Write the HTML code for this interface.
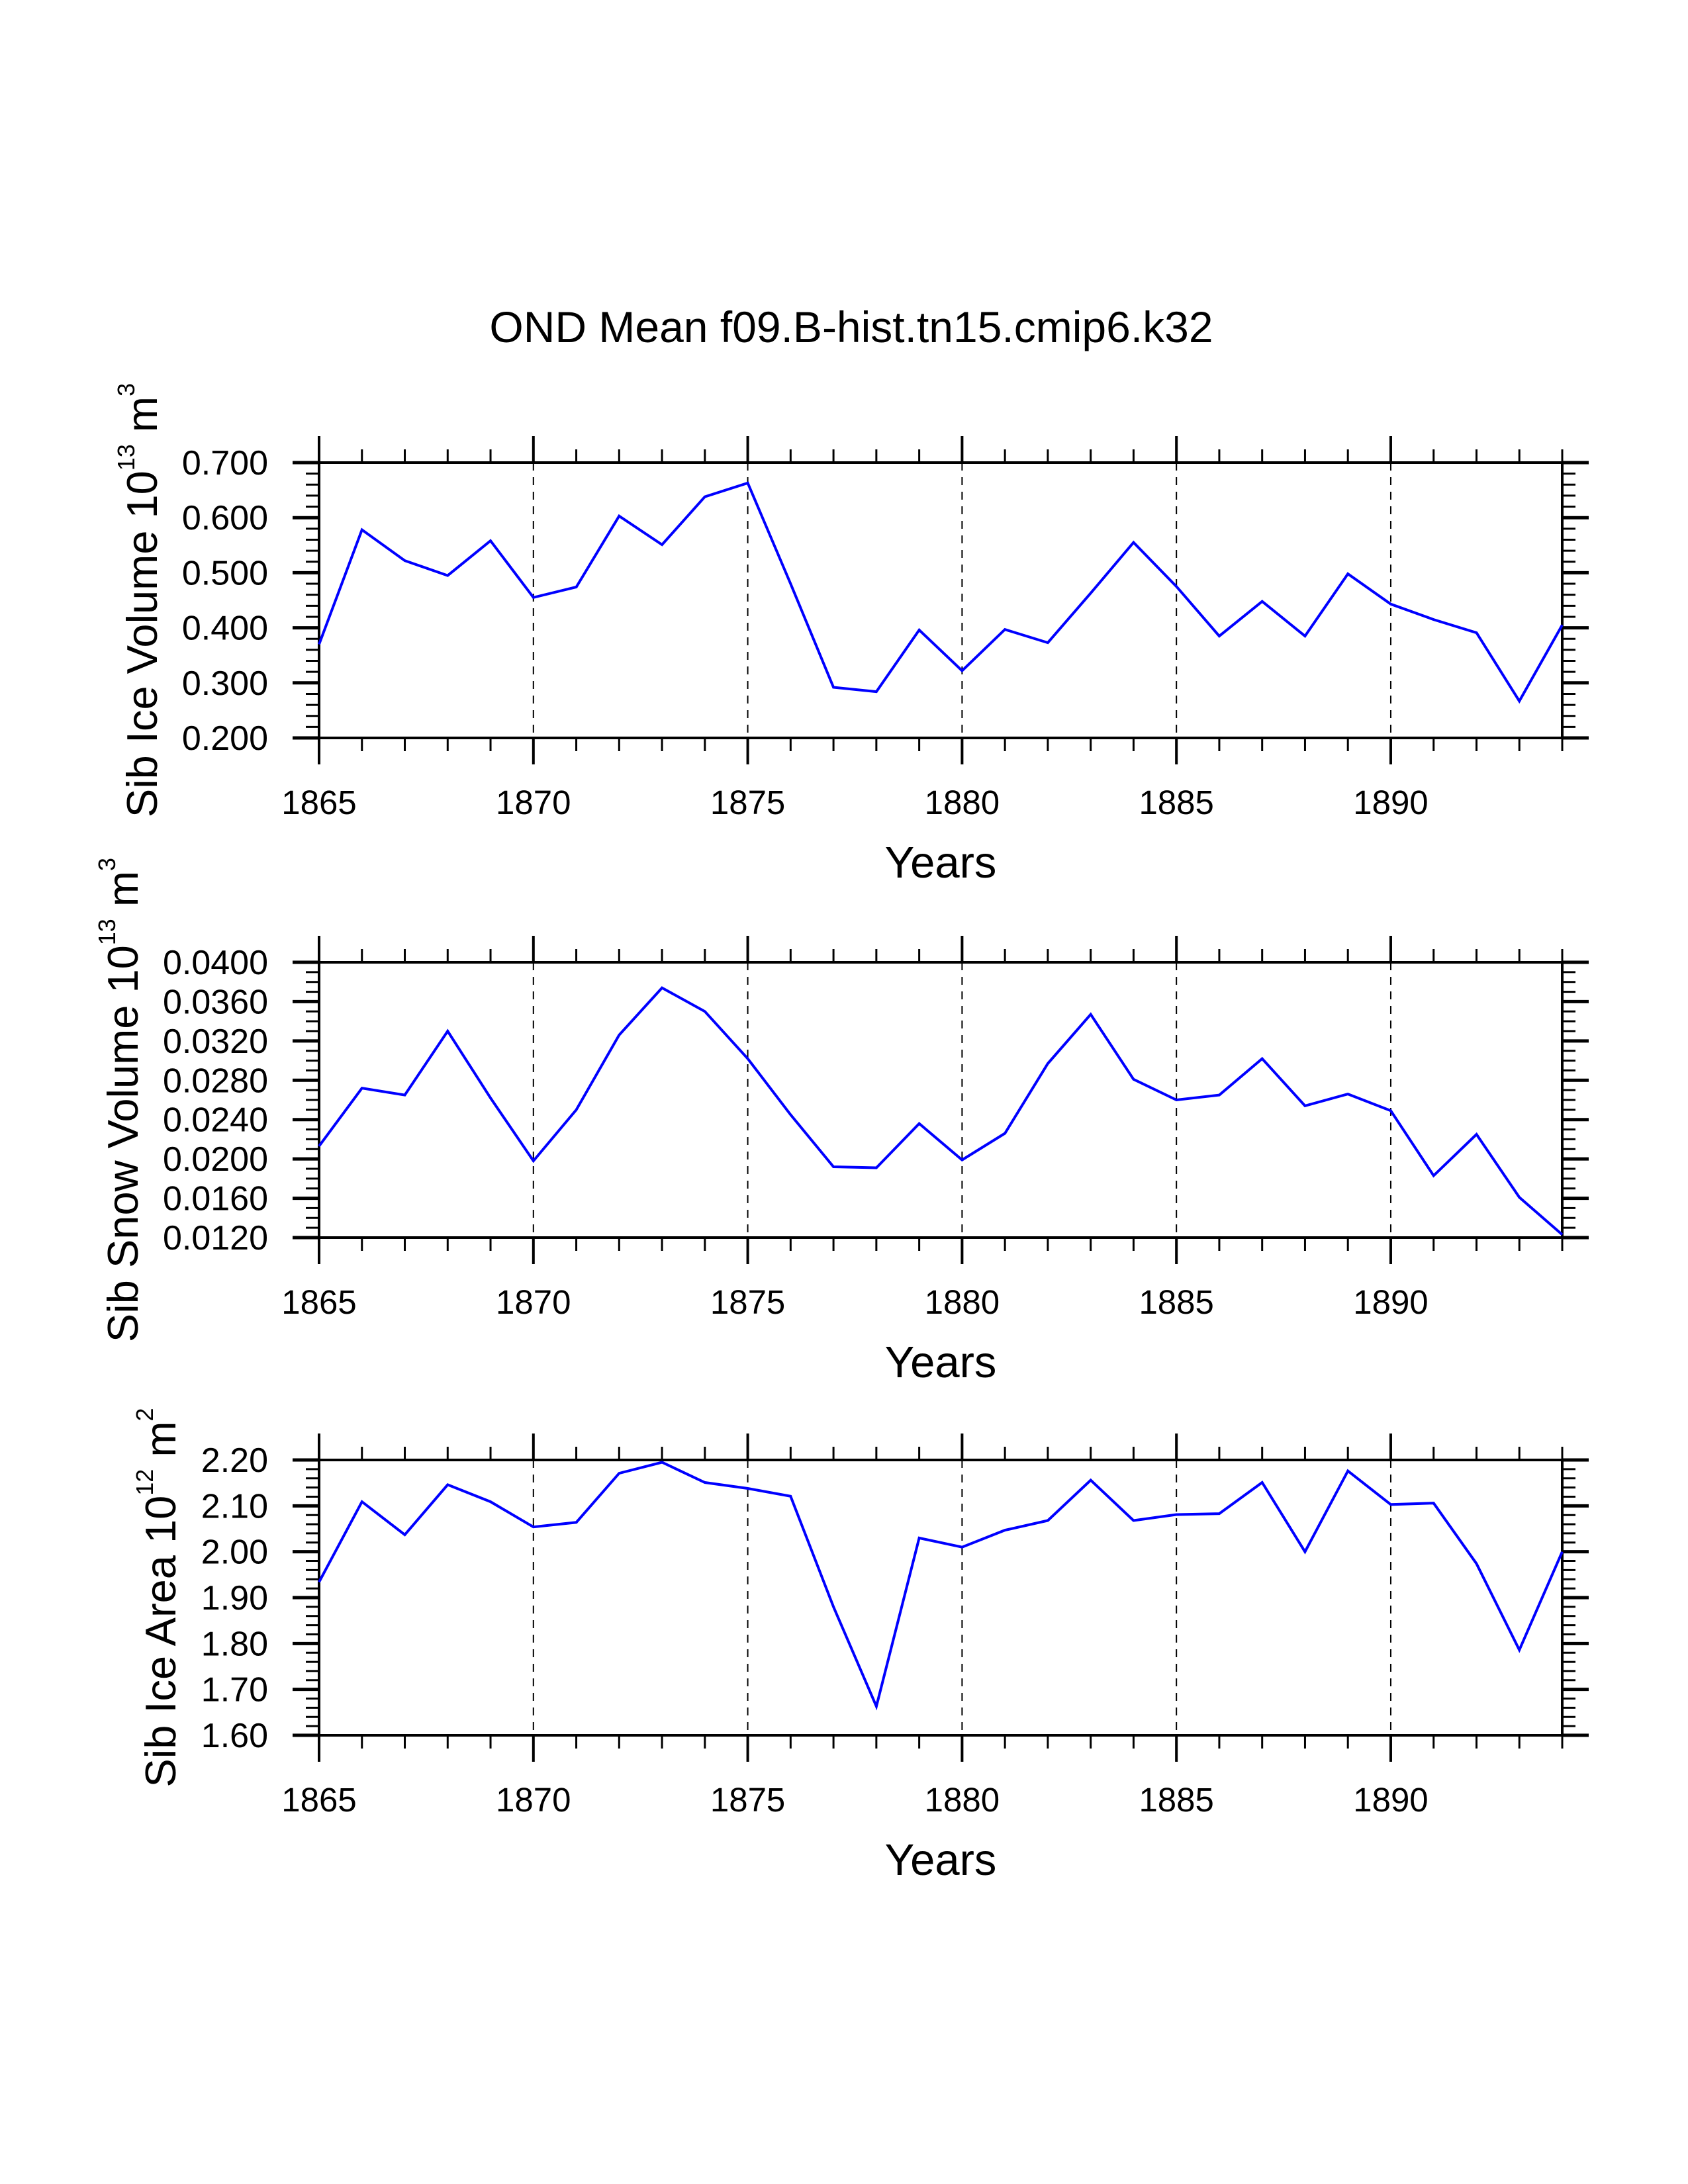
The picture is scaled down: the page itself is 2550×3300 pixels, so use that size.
<!DOCTYPE html>
<html><head><meta charset="utf-8"><style>
html,body{margin:0;padding:0;background:#fff;}
svg{display:block;font-family:"Liberation Sans",sans-serif;}
</style></head><body>
<svg id="chart" width="2550" height="3300" viewBox="0 0 2550 3300" xmlns="http://www.w3.org/2000/svg">
<text x="1286" y="517" font-size="66" text-anchor="middle">OND Mean f09.B-hist.tn15.cmip6.k32</text>
</svg>
<script>
const years = [1865,1866,1867,1868,1869,1870,1871,1872,1873,1874,1875,1876,1877,1878,1879,1880,1881,1882,1883,1884,1885,1886,1887,1888,1889,1890,1891,1892,1893,1894];
const iceVolume = [0.370,0.578,0.522,0.495,0.558,0.455,0.474,0.603,0.551,0.638,0.663,0.480,0.292,0.284,0.396,0.322,0.397,0.373,0.463,0.555,0.475,0.385,0.448,0.385,0.498,0.443,0.415,0.391,0.267,0.405];
const snowVolume = [0.0213,0.0272,0.0265,0.0330,0.0262,0.0198,0.0250,0.0326,0.0374,0.0350,0.0302,0.0245,0.0192,0.0191,0.0236,0.0199,0.0226,0.0297,0.0347,0.0281,0.0260,0.0265,0.0302,0.0254,0.0266,0.0249,0.0183,0.0225,0.0161,0.0123];
const iceArea = [1.934,2.109,2.037,2.146,2.109,2.054,2.064,2.171,2.195,2.151,2.138,2.121,1.880,1.663,2.030,2.010,2.047,2.068,2.156,2.068,2.081,2.083,2.151,2.000,2.176,2.103,2.106,1.974,1.786,2.000];
const xTickLabels = ["1865","1870","1875","1880","1885","1890"];
const iceVolumeTicks = ["0.200","0.300","0.400","0.500","0.600","0.700"];
const snowVolumeTicks = ["0.0120","0.0160","0.0200","0.0240","0.0280","0.0320","0.0360","0.0400"];
const iceAreaTicks = ["1.60","1.70","1.80","1.90","2.00","2.10","2.20"];

const svg = document.getElementById('chart');
const NS = 'http://www.w3.org/2000/svg';
function mk(tag, attrs, parent){
  const e = document.createElementNS(NS, tag);
  for (const k in attrs) e.setAttribute(k, attrs[k]);
  (parent||svg).appendChild(e);
  return e;
}
const L = 482, R = 2360, X0 = 1865, X1 = 1894;
function xs(y){ return L + (y - X0) * (R - L) / (X1 - X0); }

function panel(cfg){
  const T = cfg.top, B = cfg.top + 416;
  const ticks = cfg.ticks.map(Number);
  const ymin = ticks[0], ymax = ticks[ticks.length-1];
  const ys = v => B - (v - ymin) * (B - T) / (ymax - ymin);
  const g = mk('g', {});
  
  
  for (let yr = 1870; yr <= 1890; yr += 5) {
    const l = mk('line', {x1:xs(yr), x2:xs(yr), y1:T, y2:B, stroke:'#000', 'stroke-width':2, 'stroke-dasharray':'12,10'}, g);
    
    
  }
  for (let yr = X0; yr <= X1; yr++) {
    const major = (yr - X0) % 5 === 0;
    const len = major ? 40 : 20, w = major ? 4 : 3;
    mk('line', {x1:xs(yr), x2:xs(yr), y1:T, y2:T-len, stroke:'#000', 'stroke-width':w}, g);
    mk('line', {x1:xs(yr), x2:xs(yr), y1:B, y2:B+len, stroke:'#000', 'stroke-width':w}, g);
  }
  xTickLabels.forEach(s => {
    const t = mk('text', {x:xs(+s), y:B+115, 'font-size':51, 'text-anchor':'middle'}, g);
    t.textContent = s;
    
    
  });
  const step = (ticks[1]-ticks[0]) / cfg.minorPer;
  const n = Math.round((ymax - ymin) / step);
  for (let i = 0; i <= n; i++) {
    const v = ymin + i * step, y = ys(v);
    const major = i % cfg.minorPer === 0;
    const len = major ? 40 : 20, w = major ? 5 : 3;
    mk('line', {x1:L, x2:L-len, y1:y, y2:y, stroke:'#000', 'stroke-width':w}, g);
    mk('line', {x1:R, x2:R+len, y1:y, y2:y, stroke:'#000', 'stroke-width':w}, g);
  }
  cfg.ticks.forEach(s => {
    const t = mk('text', {x:405, y:ys(+s)+18, 'font-size':52, 'text-anchor':'end'}, g);
    t.textContent = s;
    
    
  });
  const f = mk('rect', {x:L, y:T, width:R-L, height:B-T, fill:'none', stroke:'#000', 'stroke-width':4}, g);
  
  
  const pts = years.map((yr,i) => xs(yr).toFixed(1) + ',' + ys(cfg.values[i]).toFixed(1)).join(' ');
  const pl = mk('polyline', {points:pts, fill:'none', stroke:'#0000ff', 'stroke-width':4, 'stroke-linejoin':'miter'}, g);
  
  
  const xt = mk('text', {x:(L+R)/2, y:B+211, 'font-size':67, 'text-anchor':'middle'}, g);
  xt.textContent = 'Years';
  
  
  const cy = (T+B)/2;
  const yt = mk('text', {x:0, y:0, 'font-size':65, 'text-anchor':'middle', transform:'translate(' + cfg.titleX + ',' + cy + ') rotate(-90)'}, g);
  
  
  yt.innerHTML = cfg.label + ' 10<tspan font-size="36" dy="-34">' + cfg.exp + '</tspan><tspan dy="34"> m</tspan><tspan font-size="36" dy="-34">' + cfg.unitExp + '</tspan>';
}
panel({name:'ice-volume-panel', top:699, values:iceVolume, ticks:iceVolumeTicks, minorPer:5, titleX:237, label:'Sib Ice Volume', exp:'13', unitExp:'3'});
panel({name:'snow-volume-panel', top:1454, values:snowVolume, ticks:snowVolumeTicks, minorPer:4, titleX:208, label:'Sib Snow Volume', exp:'13', unitExp:'3'});
panel({name:'ice-area-panel', top:2206, values:iceArea, ticks:iceAreaTicks, minorPer:5, titleX:265, label:'Sib Ice Area', exp:'12', unitExp:'2'});
</script>
</body></html>
